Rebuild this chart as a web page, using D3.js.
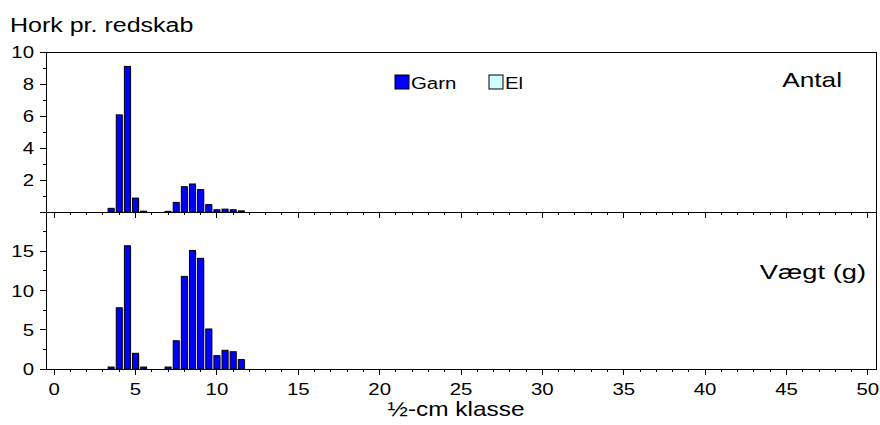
<!DOCTYPE html>
<html><head><meta charset="utf-8">
<script src="https://cdn.jsdelivr.net/npm/d3@7"></script>
<style>body{margin:0;background:#fff}text{font-family:"Liberation Sans",Arial,sans-serif;fill:#000}</style>
</head><body><svg id="c" width="880" height="425"></svg>
<script>
const classes = [3.5, 4.0, 4.5, 5.0, 5.5, 7.0, 7.5, 8.0, 8.5, 9.0, 9.5, 10.0, 10.5, 11.0, 11.5];
const antalGarn = [0.23, 6.07, 9.1, 0.87, 0.05, 0.04, 0.6, 1.58, 1.75, 1.4, 0.46, 0.14, 0.18, 0.14, 0.07];
const vaegtGarn = [0.25, 7.8, 15.7, 2.0, 0.25, 0.25, 3.6, 11.8, 15.1, 14.1, 5.1, 1.7, 2.38, 2.2, 1.2];
const xTicks = [0, 5, 10, 15, 20, 25, 30, 35, 40, 45, 50];
const topTicks = [2, 4, 6, 8, 10];
const botTicks = [0, 5, 10, 15];
const legendNames = ["Garn", "El"];
const legendColors = ["#0000FF", "#CCFFFF"];

const svg = d3.select("#c");
const L = 46, R = 876, T = 52, M = 212, B = 369;
const x = d3.scaleLinear().domain([-0.5, 50.5]).range([L, R]);
const yTop = d3.scaleLinear().domain([0, 10]).range([M, T]);
const yBot = d3.scaleLinear().domain([0, 20]).range([B, M]);
const bw = 6;

function label(parent, px, py, txt, size, sx, anchor) {
  return parent.append("text").attr("transform", `translate(${px},${py}) scale(${sx},1)`)
    .attr("text-anchor", anchor || "start").attr("font-size", size).text(txt);
}

// frame
svg.append("rect").attr("x", L).attr("y", T).attr("width", R - L).attr("height", B - T)
  .attr("fill", "none").attr("stroke", "#000").attr("stroke-width", 1).attr("shape-rendering", "crispEdges");

function bars(y, vals) {
  const g = svg.append("g");
  g.selectAll("rect.s").data(classes).join("rect")
    .attr("x", (d) => x(d) - bw / 2 + 1).attr("y", (d, i) => y(vals[i]) + 1)
    .attr("width", bw).attr("height", (d, i) => Math.max(0, y(0) - y(vals[i])))
    .attr("fill", "#b0b0b0");
  g.selectAll("rect.b").data(classes).join("rect")
    .attr("x", (d) => x(d) - bw / 2).attr("y", (d, i) => y(vals[i]))
    .attr("width", bw).attr("height", (d, i) => Math.max(0, y(0) - y(vals[i])))
    .attr("fill", legendColors[0]).attr("stroke", "#000").attr("stroke-width", 1);
}
bars(yTop, antalGarn);
bars(yBot, vaegtGarn);

// x axes
function xAxis(yPos, labels) {
  const minor = d3.range(0, 51, 1).filter(v => v % 5 !== 0);
  const g = svg.append("g").attr("transform", `translate(0,${yPos})`);
  g.append("line").attr("x1", L).attr("x2", R).attr("stroke", "#000").attr("shape-rendering", "crispEdges");
  g.selectAll("line.mi").data(minor).join("line").attr("x1", x).attr("x2", x).attr("y1", 0).attr("y2", 3)
    .attr("stroke", "#000").attr("shape-rendering", "crispEdges");
  g.selectAll("line.ma").data(xTicks).join("line").attr("x1", x).attr("x2", x).attr("y1", 0).attr("y2", 6)
    .attr("stroke", "#000").attr("shape-rendering", "crispEdges");
  if (labels) {
    xTicks.forEach(d => label(g, x(d), 26, d, 17, 1.2, "middle"));
  }
}
xAxis(M, false);
xAxis(B, true);

// y axes
function yAxis(y, ticks, step, max) {
  const g = svg.append("g");
  const minor = d3.range(step / 2, max, step);
  g.selectAll("line.mi").data(minor).join("line").attr("x1", L - 3).attr("x2", L).attr("y1", y).attr("y2", y)
    .attr("stroke", "#000").attr("shape-rendering", "crispEdges");
  g.selectAll("line.ma").data([0].concat(ticks).concat([max])).join("line").attr("x1", L - 6).attr("x2", L).attr("y1", y).attr("y2", y)
    .attr("stroke", "#000").attr("shape-rendering", "crispEdges");
  ticks.forEach(d => label(g, L - 12, y(d) + 6, d, 17, 1.2, "end"));
}
yAxis(yTop, topTicks, 2, 10);
yAxis(yBot, botTicks, 5, 20);

// texts
label(svg, 10, 32, "Hork pr. redskab", 20, 1.25, "start");
label(svg, 842, 87, "Antal", 21, 1.25, "end");
label(svg, 866, 279, "Vægt (g)", 21, 1.3, "end");
label(svg, 456, 416, "½-cm klasse", 20, 1.22, "middle");

// legend
const lx = [395, 489];
legendNames.forEach((n, i) => {
  svg.append("rect").attr("x", lx[i]).attr("y", 75).attr("width", 14).attr("height", 14)
    .attr("fill", legendColors[i]).attr("stroke", "#000").attr("stroke-width", 1);
  label(svg, lx[i] + 16, 89, n, 17, 1.2, "start");
});
</script></body></html>
